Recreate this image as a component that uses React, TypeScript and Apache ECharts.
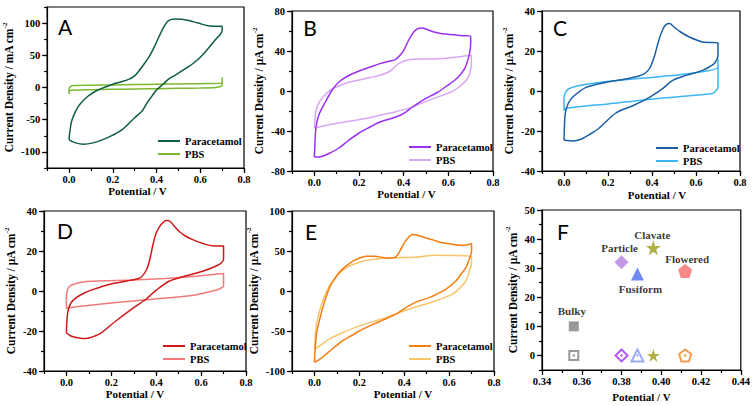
import React, { useEffect, useRef } from "react";
import * as echarts from "echarts";

// ---------------- DATA ----------------
const cvXTicks = [0, 0.2, 0.4, 0.6, 0.8];

const yTicksA = [-100, -50, 0, 50, 100];
const yTicksB = [-80, -40, 0, 40, 80];
const yTicksC = [-40, -20, 0, 20, 40];
const yTicksD = [-40, -20, 0, 20, 40];
const yTicksE = [-100, -50, 0, 50, 100];
const xTicksF = [0.34, 0.36, 0.38, 0.4, 0.42, 0.44];
const yTicksF = [0, 10, 20, 30, 40, 50];

const legendNames = ["Paracetamol", "PBS"];

// Panel A (mA cm-2)
const cvA_paracetamol = [
  [0, -81], [0.004, -68], [0.012, -52], [0.03, -37], [0.05, -26], [0.085, -14], [0.125, -5], [0.16, 0],
  [0.2, 5], [0.24, 9], [0.275, 13], [0.3, 18], [0.32, 26], [0.34, 35], [0.365, 47], [0.39, 63], [0.41, 78],
  [0.435, 95], [0.455, 104], [0.485, 106.5], [0.515, 106], [0.546, 104], [0.59, 100], [0.636, 96], [0.67, 95], [0.7, 95],
  [0.7, 88], [0.69, 82], [0.666, 73], [0.64, 62], [0.606, 49], [0.57, 38], [0.53, 29], [0.49, 20], [0.455, 13],
  [0.43, 5], [0.4, -4], [0.38, -13], [0.36, -22], [0.335, -36], [0.3, -47], [0.245, -65], [0.2, -74], [0.155, -81],
  [0.11, -86], [0.065, -88], [0.03, -86], [0.01, -83], [0, -81],
];
const cvA_pbs = [
  [0, -10], [0, -3], [0.005, 1], [0.02, 3], [0.1, 3.5], [0.2, 4], [0.3, 4.5], [0.4, 5], [0.5, 5.5], [0.6, 6], [0.7, 7],
  [0.7, 16], [0.7, 10], [0.7, 3], [0.69, 1.5], [0.67, 0], [0.6, -0.8], [0.5, -1.3], [0.4, -1.8], [0.3, -2.3],
  [0.2, -2.8], [0.1, -3.3], [0.03, -3.8], [0.005, -4.5], [0, -7],
];

// Panel B (uA cm-2)
const cvB_paracetamol = [
  [0, -66], [0.002, -57], [0.007, -37], [0.02, -24], [0.052, -10], [0.08, 1], [0.11, 9], [0.15, 15], [0.2, 20],
  [0.25, 24], [0.294, 27.4], [0.33, 29.5], [0.362, 31.4], [0.385, 36], [0.4, 40.7], [0.425, 52], [0.445, 59],
  [0.465, 62.5], [0.484, 63], [0.505, 61.5], [0.536, 59], [0.565, 57.5], [0.597, 56.7], [0.65, 55.5], [0.7, 55],
  [0.7, 48], [0.695, 37.4], [0.673, 22.4], [0.64, 13], [0.597, 5.7], [0.55, -1.5], [0.49, -8.6], [0.44, -16],
  [0.385, -24.3], [0.294, -31], [0.25, -36], [0.2, -42], [0.15, -50], [0.11, -57], [0.07, -62], [0.04, -65],
  [0.02, -66], [0, -66],
];
const cvB_pbs = [
  [0, -37], [0.003, -28], [0.007, -20], [0.025, -10], [0.052, -3], [0.08, 2], [0.11, 5], [0.15, 8.5], [0.2, 11],
  [0.25, 13.5], [0.294, 15.7], [0.34, 20], [0.377, 27.4], [0.43, 31.4], [0.5, 32], [0.567, 32.4], [0.64, 34],
  [0.703, 35.7], [0.703, 25.7], [0.695, 17], [0.68, 10.7], [0.645, 3.5], [0.612, -1], [0.521, -8.6], [0.43, -16.6],
  [0.36, -21], [0.294, -24.3], [0.24, -27], [0.18, -29.5], [0.11, -32], [0.06, -34], [0.03, -35.5], [0, -37],
];

// Panel C
const cvC_paracetamol = [
  [0, -24.5], [0.002, -18], [0.006, -11], [0.02, -6], [0.04, -3], [0.1, 1.8], [0.19, 4.3], [0.28, 6], [0.34, 7.5],
  [0.37, 9], [0.39, 11.5], [0.41, 17], [0.43, 25], [0.45, 31], [0.465, 33.3], [0.48, 33.7], [0.5, 32], [0.53, 29.5],
  [0.57, 27], [0.63, 24.5], [0.7, 24],
  [0.7, 18], [0.685, 14], [0.66, 12], [0.63, 10.3], [0.555, 7.8], [0.494, 5.3], [0.448, 1.2], [0.403, -2.2],
  [0.37, -4.3], [0.31, -7.5], [0.236, -11], [0.16, -18.5], [0.12, -21.5], [0.08, -24], [0.04, -25], [0.015, -24.8],
  [0, -24.5],
];
const cvC_pbs = [
  [0, -10], [0, -4], [0.005, -1], [0.02, 1], [0.06, 2.5], [0.16, 4.3], [0.34, 6.2], [0.57, 8.7], [0.7, 12],
  [0.7, 16], [0.7, 8], [0.7, 2], [0.69, 0], [0.675, -1.3], [0.57, -2.4], [0.45, -3.5], [0.34, -4.7], [0.2, -6.5],
  [0.1, -7.5], [0.02, -8.5], [0, -9],
];

// Panel D
const cvD_paracetamol = [
  [0, -21], [0.002, -15], [0.007, -10], [0.02, -6], [0.044, -3.3], [0.08, -1], [0.12, 0.8], [0.19, 3.3], [0.27, 5],
  [0.33, 6.7], [0.356, 10.5], [0.37, 15], [0.385, 23], [0.4, 29], [0.42, 33], [0.445, 35.3], [0.46, 35], [0.48, 32.5],
  [0.5, 30], [0.53, 27.5], [0.56, 25.8], [0.62, 23.3], [0.66, 22.5], [0.7, 22.5],
  [0.7, 16], [0.69, 14], [0.667, 12.5], [0.61, 10], [0.53, 7.5], [0.46, 5], [0.415, 1.7], [0.38, -1.5], [0.356, -4],
  [0.3, -8.3], [0.22, -15], [0.15, -21.3], [0.1, -23.5], [0.074, -23.8], [0.044, -23.3], [0.02, -22.5], [0, -21],
];
const cvD_pbs = [
  [0, -8.7], [0, -4], [0.003, 0], [0.015, 2.5], [0.03, 3.3], [0.09, 4.7], [0.3, 5.5], [0.44, 6.3], [0.59, 7.5],
  [0.7, 8.7], [0.7, 5], [0.7, 2.5], [0.68, 1], [0.65, 0], [0.56, -2.2], [0.37, -4.2], [0.22, -5.8], [0.074, -7.5],
  [0.02, -8.2], [0, -8.7],
];

// Panel E
const cvE_paracetamol = [
  [0, -89], [0.004, -70], [0.01, -52], [0.022, -37], [0.04, -18], [0.067, 4], [0.09, 15], [0.11, 23], [0.14, 31],
  [0.17, 37], [0.2, 41], [0.23, 43.5], [0.27, 43.5], [0.3, 42], [0.33, 41], [0.355, 41.5], [0.37, 45], [0.39, 55],
  [0.41, 64], [0.437, 70.5], [0.467, 69], [0.5, 66], [0.526, 64], [0.56, 61], [0.6, 59], [0.66, 57], [0.7, 59],
  [0.7, 50], [0.69, 40], [0.674, 29], [0.65, 20], [0.63, 12.4], [0.585, 2], [0.54, -4.5], [0.511, -8.3], [0.46, -13],
  [0.42, -18.7], [0.39, -24], [0.363, -29], [0.3, -37], [0.215, -47.7], [0.17, -55], [0.126, -62], [0.09, -70],
  [0.052, -79], [0.02, -86], [0, -89],
];
const cvE_pbs = [
  [0, -72.6], [0.003, -60], [0.007, -45.6], [0.02, -28], [0.037, -12.4], [0.06, 3], [0.08, 12.4], [0.11, 22],
  [0.155, 31], [0.2, 36], [0.25, 39], [0.333, 41.5], [0.45, 42.3], [0.54, 44.8], [0.63, 44.4], [0.7, 42.3],
  [0.7, 35], [0.69, 25], [0.674, 12.4], [0.645, 3], [0.615, -4], [0.54, -12.4], [0.42, -22.8], [0.3, -35],
  [0.2, -43.6], [0.11, -54], [0.06, -61], [0.037, -66], [0.015, -70], [0, -72.6],
];

// Panel F
const morphologies = ["Bulky", "Particle", "Fusiform", "Clavate", "Flowered"];
const peakPotential = [0.356, 0.38, 0.388, 0.396, 0.412];
const peakCurrent = [10, 32, 28, 37, 29];
const baselineCurrent = [0, 0, 0, 0, 0];

// ---------------- STYLE ----------------
const SERIF = "Liberation Serif";
const STAR = "path://M50,2 L61.8,37.6 L99,37.6 L68.9,59.5 L80.3,95.1 L50,73 L19.7,95.1 L31.1,59.5 L1,37.6 L38.2,37.6 Z";
const PENTAGON = "path://M50,2 L98,37 L79.6,93 L20.4,93 L2,37 Z";

const fSymbols = ["rect", "diamond", "triangle", STAR, PENTAGON];
const fFilledColors = ["#7f7f7f", "#b57ee2", "#4a6cf0", "#9c9a18", "#f46a6a"];
const fFilledSizes = [10, 14, 13, 15, 14];
const fHollowColors = ["#808080", "#9b32f2", "#8296f5", "#9c9a18", "#f5801f"];
const fHollowSizes = [9, 12, 12, 13, 12];
const fHollowFilled = [false, false, false, true, false];
const fLabelOffsets = [[-2, -15], [-2, -14], [3, 15], [-1, -13], [2, -12]];

type Panel = {
  key: string;
  grid: { left: number; top: number; width: number; height: number };
  xMin: number; xMax: number; xStep: number; xTicks: number[]; xDigits: number;
  yMin: number; yMax: number; yStep: number; yTicks: number[];
  unit: string; yGap: number; xGap: number; xShift: number;
  letter: string; letterPos: [number, number];
  legendPos?: [number, number];
  colors?: [string, string];
  curves?: number[][][];
};

const panels: Panel[] = [
  {
    key: "A", grid: { left: 43, top: 7, width: 201, height: 161 },
    xMin: -0.1, xMax: 0.8, xStep: 0.1, xTicks: cvXTicks, xDigits: 1,
    yMin: -125, yMax: 125, yStep: 25, yTicks: yTicksA,
    unit: "mA", yGap: 24, xGap: 17, xShift: -8,
    letter: "A", letterPos: [65, 26], legendPos: [158, 135],
    colors: ["#0e5e3e", "#7cb82f"], curves: [cvA_paracetamol, cvA_pbs],
  },
  {
    key: "B", grid: { left: 292, top: 11, width: 201, height: 160 },
    xMin: -0.1, xMax: 0.8, xStep: 0.1, xTicks: cvXTicks, xDigits: 1,
    yMin: -80, yMax: 80, yStep: 20, yTicks: yTicksB,
    unit: "μA", yGap: 20, xGap: 15, xShift: 14,
    letter: "B", letterPos: [310, 27], legendPos: [409, 141],
    colors: ["#9b30f0", "#d8a8f5"], curves: [cvB_paracetamol, cvB_pbs],
  },
  {
    key: "C", grid: { left: 542, top: 11, width: 198, height: 160 },
    xMin: -0.1, xMax: 0.8, xStep: 0.1, xTicks: cvXTicks, xDigits: 1,
    yMin: -40, yMax: 40, yStep: 10, yTicks: yTicksC,
    unit: "μA", yGap: 25, xGap: 18, xShift: 16,
    letter: "C", letterPos: [560, 27], legendPos: [656, 142],
    colors: ["#1a5fa3", "#3db4f5"], curves: [cvC_paracetamol, cvC_pbs],
  },
  {
    key: "D", grid: { left: 44, top: 211, width: 202, height: 160 },
    xMin: -0.1, xMax: 0.8, xStep: 0.1, xTicks: cvXTicks, xDigits: 1,
    yMin: -40, yMax: 40, yStep: 10, yTicks: yTicksD,
    unit: "μA", yGap: 18, xGap: 16, xShift: -10,
    letter: "D", letterPos: [65, 230], legendPos: [163, 340],
    colors: ["#d01818", "#f27a7a"], curves: [cvD_paracetamol, cvD_pbs],
  },
  {
    key: "E", grid: { left: 292, top: 211, width: 202, height: 160 },
    xMin: -0.1, xMax: 0.8, xStep: 0.1, xTicks: cvXTicks, xDigits: 1,
    yMin: -100, yMax: 100, yStep: 25, yTicks: yTicksE,
    unit: "μA", yGap: 20, xGap: 15, xShift: 10,
    letter: "E", letterPos: [311, 231], legendPos: [409, 340],
    colors: ["#f57e10", "#f7c46a"], curves: [cvE_paracetamol, cvE_pbs],
  },
  {
    key: "F", grid: { left: 542, top: 210, width: 200, height: 160 },
    xMin: 0.34, xMax: 0.44, xStep: 0.01, xTicks: xTicksF, xDigits: 2,
    yMin: -5, yMax: 50, yStep: 5, yTicks: yTicksF,
    unit: "μA", yGap: 18, xGap: 21, xShift: 0,
    letter: "F", letterPos: [563, 231],
  },
];

const near = (list: number[], v: number) => list.some((t) => Math.abs(t - v) < 1e-6);

function buildOption() {
  const grid: any[] = [];
  const xAxis: any[] = [];
  const yAxis: any[] = [];
  const series: any[] = [];
  const legend: any[] = [];
  const graphic: any[] = [];
  const black = "#000";
  const labelStyle = { fontFamily: SERIF, fontWeight: "bold", fontSize: 10.5, color: black };

  panels.forEach((p, i) => {
    grid.push({ ...p.grid, show: true, borderColor: black, borderWidth: 1.2, backgroundColor: "transparent" });
    const xi = i * 2;
    // main axis: short ticks at every minor step, labels only at major values
    xAxis.push({
      type: "value", gridIndex: i, min: p.xMin, max: p.xMax, interval: p.xStep, position: "bottom",
      axisLine: { show: true, onZero: false, lineStyle: { color: black, width: 1.2 } },
      axisTick: { show: true, inside: false, length: 3, lineStyle: { color: black, width: 1.2 } },
      axisLabel: {
        ...labelStyle, margin: 6, showMinLabel: true, showMaxLabel: true, hideOverlap: false,
        formatter: (v: number) => (near(p.xTicks, v) ? v.toFixed(p.xDigits) : ""),
      },
      splitLine: { show: false },
      name: "Potential / V", nameLocation: "middle", nameGap: p.xGap,
      nameTextStyle: { fontFamily: SERIF, fontWeight: "bold", fontSize: 11, color: black,
        padding: p.xShift >= 0 ? [0, 0, 0, p.xShift * 2] : [0, -p.xShift * 2, 0, 0] },
    });
    // overlay axis: longer ticks at major values
    xAxis.push({
      type: "value", gridIndex: i, min: p.xMin, max: p.xMax, position: "bottom",
      axisLine: { show: false, onZero: false },
      axisTick: { show: true, inside: false, length: 5, customValues: p.xTicks, lineStyle: { color: black, width: 1.2 } },
      axisLabel: { show: false }, splitLine: { show: false },
    });
    yAxis.push({
      type: "value", gridIndex: i, min: p.yMin, max: p.yMax, interval: p.yStep, position: "left",
      axisLine: { show: true, onZero: false, lineStyle: { color: black, width: 1.2 } },
      axisTick: { show: true, inside: false, length: 3, lineStyle: { color: black, width: 1.2 } },
      axisLabel: {
        ...labelStyle, margin: 7, showMinLabel: true, showMaxLabel: true, hideOverlap: false,
        formatter: (v: number) => (near(p.yTicks, v) ? String(Math.round(v)) : ""),
      },
      splitLine: { show: false },
      name: `Current Density / ${p.unit} cm{sup|-2}`, nameLocation: "middle", nameGap: p.yGap, nameRotate: 90,
      nameTextStyle: {
        fontFamily: SERIF, fontWeight: "bold", fontSize: 11.5, color: black, lineHeight: 16,
        rich: { sup: { fontFamily: SERIF, fontWeight: "bold", fontSize: 7, color: black, verticalAlign: "top", lineHeight: 16 } },
      },
    });
    yAxis.push({
      type: "value", gridIndex: i, min: p.yMin, max: p.yMax, position: "left",
      axisLine: { show: false, onZero: false },
      axisTick: { show: true, inside: false, length: 5, customValues: p.yTicks, lineStyle: { color: black, width: 1.2 } },
      axisLabel: { show: false }, splitLine: { show: false },
    });

    graphic.push({
      type: "text", x: p.letterPos[0], y: p.letterPos[1], z: 100,
      style: { text: p.letter, fontFamily: "Lato", fontSize: 21, fill: black, align: "center", verticalAlign: "middle" },
    });

    if (p.curves && p.colors && p.legendPos) {
      const names: string[] = [];
      p.curves.forEach((c, k) => {
        const nm = `${legendNames[k]}#${p.key}`;
        names.push(nm);
        series.push({
          type: "line", name: nm, xAxisIndex: xi, yAxisIndex: xi, data: c,
          showSymbol: false, symbol: "none", smooth: 0.3, color: p.colors![k],
          lineStyle: { width: 1.5, color: p.colors![k] }, z: k === 0 ? 3 : 2,
        });
      });
      legend.push({
        data: names, orient: "vertical", left: p.legendPos[0], top: p.legendPos[1],
        icon: "rect", itemWidth: 22, itemHeight: 2, itemGap: 1, padding: 0, selectedMode: false,
        formatter: (n: string) => n.split("#")[0],
        textStyle: { fontFamily: SERIF, fontWeight: "bold", fontSize: 10.5, color: black, lineHeight: 12 },
      });
    } else {
      // Panel F
      series.push({
        type: "scatter", name: "peak", xAxisIndex: xi, yAxisIndex: xi, z: 5,
        data: morphologies.map((m, k) => ({
          name: m, value: [peakPotential[k], peakCurrent[k]], symbol: fSymbols[k], symbolSize: fFilledSizes[k],
          itemStyle: { color: fFilledColors[k] },
          label: {
            show: true, formatter: m, position: "inside", offset: fLabelOffsets[k],
            fontFamily: SERIF, fontWeight: "bold", fontSize: 11, color: black,
          },
        })),
      });
      series.push({
        type: "scatter", name: "baseline", xAxisIndex: xi, yAxisIndex: xi, z: 5,
        data: morphologies.map((m, k) => ({
          name: m, value: [peakPotential[k], baselineCurrent[k]], symbol: fSymbols[k], symbolSize: fHollowSizes[k],
          itemStyle: fHollowFilled[k]
            ? { color: fHollowColors[k] }
            : { color: "#fff", borderColor: fHollowColors[k], borderWidth: 2 },
        })),
      });
      series.push({
        type: "scatter", name: "baselineDot", xAxisIndex: xi, yAxisIndex: xi, z: 6,
        data: morphologies
          .map((m, k) => ({ m, k }))
          .filter((o) => !fHollowFilled[o.k])
          .map((o) => ({
            name: o.m, value: [peakPotential[o.k], baselineCurrent[o.k]], symbol: "circle", symbolSize: 2.5,
            itemStyle: { color: fHollowColors[o.k] },
          })),
      });
    }
  });

  return {
    animation: false, backgroundColor: "#fff",
    textStyle: { fontFamily: SERIF, fontWeight: "bold", color: black },
    grid, xAxis, yAxis, series, legend, graphic,
  };
}

export default function App() {
  const ref = useRef<HTMLDivElement>(null);
  useEffect(() => {
    document.body.style.margin = "0";
    const chart = echarts.init(ref.current!, undefined, { renderer: "svg" });
    chart.setOption(buildOption() as any);
    return () => chart.dispose();
  }, []);
  return <div ref={ref} style={{ width: 753, height: 406 }} />;
}
